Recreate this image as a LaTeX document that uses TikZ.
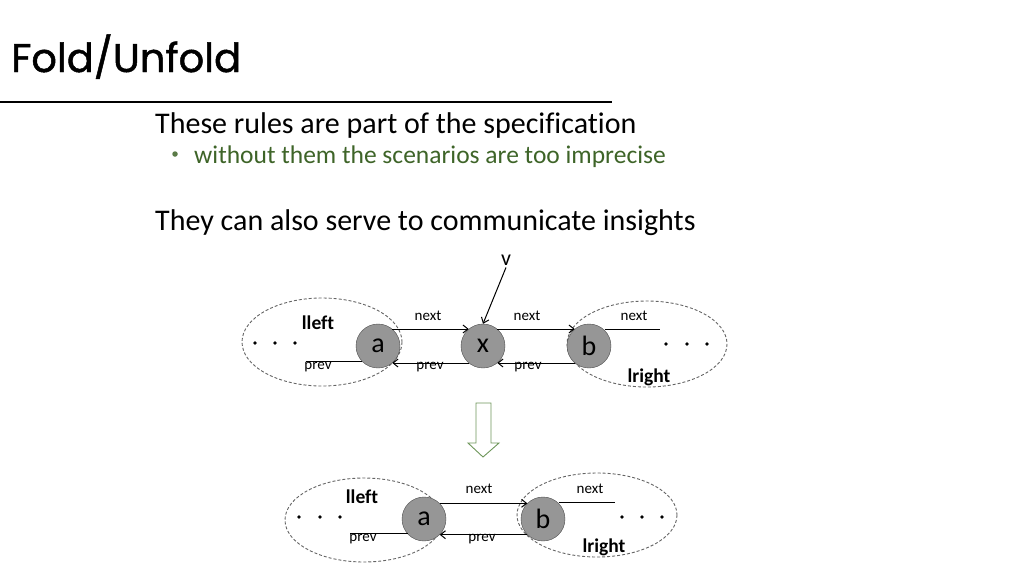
\documentclass[tikz,border=0pt]{standalone}
\usepackage{fontspec}
\setmainfont{Carlito}[Ligatures=NoCommon]
\newfontfamily\titlefont{Poppins}[FakeBold=1.2]
\usetikzlibrary{arrows.meta}
\definecolor{subgreen}{RGB}{62,100,40}
\definecolor{arrowgreen}{RGB}{110,150,90}
\definecolor{nodegray}{RGB}{150,150,150}
\definecolor{ellgray}{RGB}{100,100,100}
\begin{document}
\begin{tikzpicture}[x=1pt,y=-1pt,
  listnode/.style={circle,draw=black!70,fill=nodegray,minimum size=44pt,inner sep=0pt,font=\fontsize{28}{28}\selectfont},
  ptr/.style={draw,line width=1pt,-{Straight Barb[length=5pt,width=8pt]}},
  stub/.style={draw,line width=1pt},
  lbl/.style={font=\fontsize{15}{15}\selectfont,inner sep=0pt},
  blbl/.style={font=\fontsize{19.5}{19.5}\selectfont\bfseries,inner sep=0pt},
  group/.style={draw=ellgray,dashed,dash pattern=on 3pt off 2pt,line width=0.9pt},
  dotm/.style={circle,fill=black,inner sep=0pt,minimum size=3.6pt}]
\useasboundingbox (0,0) rectangle (1024,576);
% title
\node[anchor=base west,inner sep=0pt,font=\titlefont\fontsize{40}{40}\selectfont] (title) at (11,72) {Fold/Unfold};
\draw[line width=2.5pt] (0,102) -- (612,102);
% text
\node[anchor=base west,inner sep=0pt,font=\fontsize{30}{30}\selectfont] (t1) at (155,133) {These rules are part of the specification};
\node[anchor=base west,inner sep=0pt,font=\fontsize{25.5}{25.5}\selectfont,text=subgreen] (t2) at (194,163) {without them the scenarios are too imprecise};
\node[circle,fill=subgreen!85,inner sep=0pt,minimum size=5.5pt] (bul) at (175,154) {};
\node[anchor=base west,inner sep=0pt,font=\fontsize{30}{30}\selectfont] (t3) at (155,230) {They can also serve to communicate insights};
% ---------- diagram 1
\draw[group] (322,342) ellipse [x radius=80,y radius=44];
\draw[group] (647,344) ellipse [x radius=80,y radius=43];
\node[listnode] (a) at (378,346) {a};
\node[listnode] (x) at (483,346) {x};
\node[listnode] (b) at (589,346) {b};
\node[inner sep=0pt,font=\fontsize{22}{22}\selectfont] (v) at (506,260) {v};
\draw[ptr] (v.south) ++(0,2) coordinate (vs) (vs) -- (x.north);
\draw[ptr] (a.50) -- (x.130);
\draw[ptr] (x.230) -- (a.-50);
\draw[ptr] (x.50) -- (b.130);
\draw[ptr] (b.230) -- (x.-50);
\coordinate (lend1) at (306,361);
\coordinate (rend1) at (660,329);
\draw[stub] (lend1) -- (a.-135 |- lend1);
\draw[stub] (b.45 |- rend1) -- (rend1);
\node[lbl] (n1) at (428,316) {next};
\node[lbl] (n2) at (527,316) {next};
\node[lbl] (n3) at (634,316) {next};
\node[lbl] (p1) at (318,367) {prev};
\node[lbl] (p2) at (430,367) {prev};
\node[lbl] (p3) at (528,367) {prev};
\node[blbl] (ll1) at (318,323) {lleft};
\node[blbl] (lr1) at (649,377) {lright};
\node[dotm] (d1) at (255,343) {};
\node[dotm] (d2) at (275,343) {};
\node[dotm] (d3) at (295,343) {};
\node[dotm] (d4) at (666,344) {};
\node[dotm] (d5) at (687,344) {};
\node[dotm] (d6) at (707,344) {};
% ---------- hollow arrow
\draw[arrowgreen,line width=0.9pt,fill=white] (476,403) -- (491,403) -- (491,443) -- (499,443) -- (483,457) -- (468,443) -- (476,443) -- cycle;
% ---------- diagram 2
\draw[group] (364,520) ellipse [x radius=79,y radius=42];
\draw[group] (597,515) ellipse [x radius=80,y radius=42];
\node[listnode] (a2) at (424,519) {a};
\node[listnode] (b2) at (543,519) {b};
\draw[ptr] (a2.45) -- (b2.135);
\draw[ptr] (b2.-135) -- (a2.-45);
\coordinate (lend2) at (350,533);
\coordinate (rend2) at (615,502);
\draw[stub] (lend2) -- (a2.-135 |- lend2);
\draw[stub] (b2.45 |- rend2) -- (rend2);
\node[lbl] (n4) at (479,489) {next};
\node[lbl] (n5) at (590,489) {next};
\node[lbl] (p4) at (363,539) {prev};
\node[lbl] (p5) at (482,539) {prev};
\node[blbl] (ll2) at (362,497) {lleft};
\node[blbl] (lr2) at (604,547) {lright};
\node[dotm] (e1) at (299,517) {};
\node[dotm] (e2) at (320,517) {};
\node[dotm] (e3) at (340,517) {};
\node[dotm] (e4) at (622,517) {};
\node[dotm] (e5) at (642,517) {};
\node[dotm] (e6) at (662,517) {};
\end{tikzpicture}
\end{document}
